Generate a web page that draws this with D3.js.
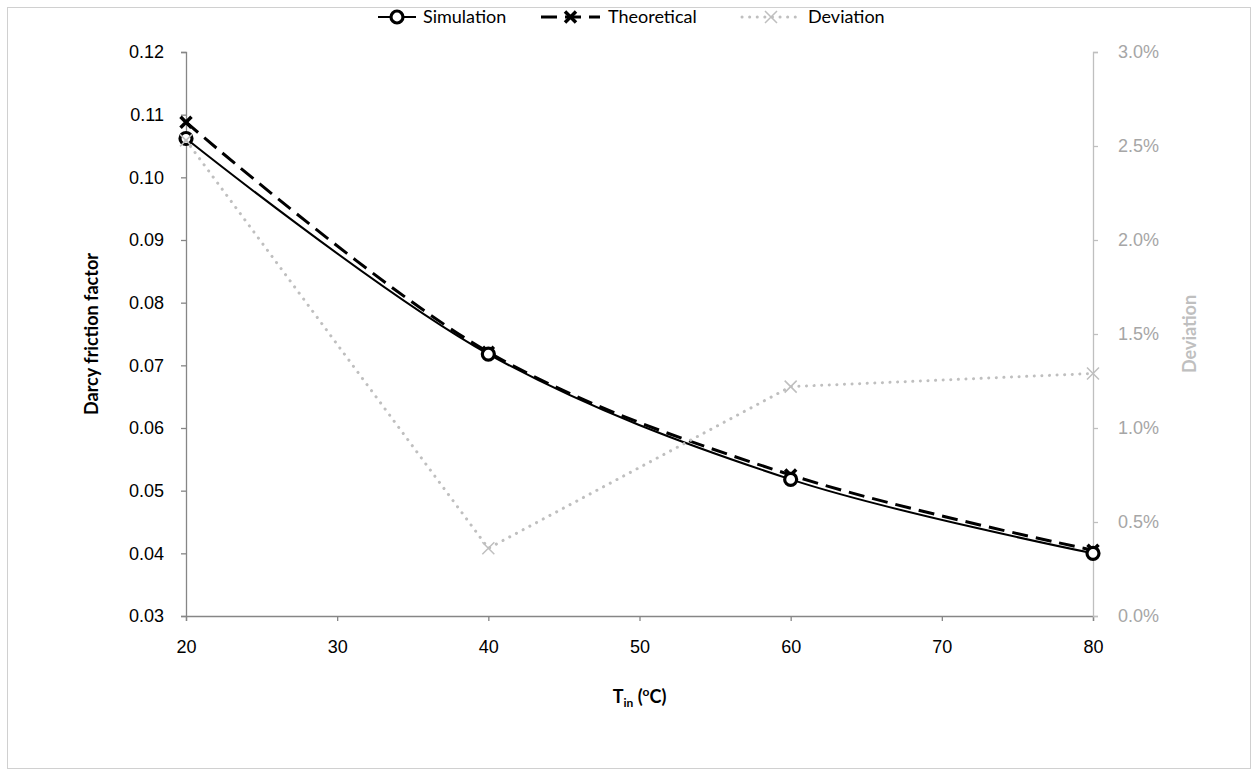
<!DOCTYPE html>
<html>
<head>
<meta charset="utf-8">
<script src="https://cdn.jsdelivr.net/npm/d3@7"></script>
<style>
  html, body { margin: 0; padding: 0; background: #fff; }
  svg { display: block; font-family: Lato, "Open Sans", sans-serif; }
</style>
</head>
<body>
<svg id="chart" width="1258" height="776"></svg>
<script>
// Inlet temperature (°C)
const temperatures = [20, 40, 60, 80];
// Darcy friction factor from the simulation
const simulation = [0.1062, 0.0718, 0.0518, 0.0400];
// Darcy friction factor from the theoretical correlation
const theoretical = [0.1088, 0.0721, 0.0525, 0.0405];
// Relative deviation between the two (secondary axis)
const deviation = [0.0253, 0.0036, 0.0122, 0.0129];

const xTicks = [20, 30, 40, 50, 60, 70, 80];
const yTicks = [0.03, 0.04, 0.05, 0.06, 0.07, 0.08, 0.09, 0.10, 0.11, 0.12];
const y2Ticks = [0, 0.005, 0.01, 0.015, 0.02, 0.025, 0.03];

const svg = d3.select("#chart");
const W = 1258, H = 776;
const FS = 18;

// chart frame
svg.append("rect")
  .attr("x", 7.5).attr("y", 7.5)
  .attr("width", W - 15).attr("height", H - 15)
  .attr("fill", "#fff").attr("stroke", "#d0d0d0").attr("stroke-width", 1);

const plot = { left: 186, right: 1093, top: 52, bottom: 616 };

const x = d3.scaleLinear().domain([20, 80]).range([plot.left, plot.right]);
const y = d3.scaleLinear().domain([0.03, 0.12]).range([plot.bottom, plot.top]);
const y2 = d3.scaleLinear().domain([0, 0.03]).range([plot.bottom, plot.top]);

const axisGrey = "#868686";
const lightGrey = "#bfbfbf";

// x axis
const gx = svg.append("g")
  .attr("transform", `translate(0,${plot.bottom})`)
  .call(d3.axisBottom(x).tickValues(xTicks).tickFormat(d3.format("d")).tickSizeOuter(0).tickSize(5).tickPadding(19));
gx.select(".domain").attr("stroke", axisGrey).attr("stroke-width", 1.3);
gx.selectAll(".tick line").attr("stroke", axisGrey).attr("stroke-width", 1.3);
gx.selectAll(".tick text").attr("fill", "#000").attr("font-size", FS);

// left axis
const gy = svg.append("g")
  .attr("transform", `translate(${plot.left},0)`)
  .call(d3.axisLeft(y).tickValues(yTicks).tickFormat(d3.format(".2f")).tickSizeOuter(0).tickSize(5).tickPadding(17));
gy.select(".domain").attr("stroke", axisGrey).attr("stroke-width", 1.3);
gy.selectAll(".tick line").attr("stroke", axisGrey).attr("stroke-width", 1.3);
gy.selectAll(".tick text").attr("fill", "#000").attr("font-size", FS);

// right axis (deviation)
const gy2 = svg.append("g")
  .attr("transform", `translate(${plot.right},0)`)
  .call(d3.axisRight(y2).tickValues(y2Ticks).tickFormat(d3.format(".1%")).tickSizeOuter(0).tickSize(5).tickPadding(20));
gy2.select(".domain").attr("stroke", lightGrey).attr("stroke-width", 1.3);
gy2.selectAll(".tick line").attr("stroke", lightGrey).attr("stroke-width", 1.3);
gy2.selectAll(".tick text").attr("fill", "#a6a6a6").attr("font-size", FS);

// axis titles
const xTitle = svg.append("text")
  .attr("x", (plot.left + plot.right) / 2).attr("y", 703)
  .attr("text-anchor", "middle").attr("font-size", FS).attr("font-weight", "bold").attr("fill", "#000");
xTitle.append("tspan").text("T");
xTitle.append("tspan").attr("font-size", 12).attr("dy", 4).text("in");
xTitle.append("tspan").attr("dy", -4).text(" (");
xTitle.append("tspan").attr("font-size", 12).attr("dy", -7).text("o");
xTitle.append("tspan").attr("dy", 7).text("C)");

svg.append("text")
  .attr("transform", `translate(98,${(plot.top + plot.bottom) / 2}) rotate(-90)`)
  .attr("text-anchor", "middle").attr("font-size", FS).attr("font-weight", "bold").attr("fill", "#000")
  .text("Darcy friction factor");

svg.append("text")
  .attr("transform", `translate(1196,${(plot.top + plot.bottom) / 2}) rotate(-90)`)
  .attr("text-anchor", "middle").attr("font-size", FS).attr("font-weight", "bold").attr("fill", lightGrey)
  .text("Deviation");

// series data rows
const rows = (vals) => temperatures.map((t, i) => ({ t, v: vals[i] }));

const smooth = d3.line().x(d => x(d.t)).y(d => y(d.v)).curve(d3.curveCatmullRom.alpha(0.5));
const straight2 = d3.line().x(d => x(d.t)).y(d => y2(d.v));

const xPath = (s) => `M${-s},${-s}L${s},${s}M${-s},${s}L${s},${-s}`;

const g = svg.append("g");

// theoretical: dashed black line with bold crosses
g.append("path").datum(rows(theoretical))
  .attr("d", smooth).attr("fill", "none").attr("stroke", "#000")
  .attr("stroke-width", 3).attr("stroke-dasharray", "16,8");

// simulation: solid black line with open circles
g.append("path").datum(rows(simulation))
  .attr("d", smooth).attr("fill", "none").attr("stroke", "#000").attr("stroke-width", 2);

g.selectAll(".theoMark").data(rows(theoretical)).join("path")
  .attr("class", "theoMark")
  .attr("transform", d => `translate(${x(d.t)},${y(d.v)})`)
  .attr("d", xPath(5.5)).attr("stroke", "#000").attr("stroke-width", 3.5).attr("fill", "none");

g.selectAll(".simMark").data(rows(simulation)).join("circle")
  .attr("class", "simMark")
  .attr("cx", d => x(d.t)).attr("cy", d => y(d.v)).attr("r", 6)
  .attr("fill", "#fff").attr("stroke", "#000").attr("stroke-width", 3.2);

// deviation: light grey dotted line with thin crosses on the secondary axis
g.append("path").datum(rows(deviation))
  .attr("d", straight2).attr("fill", "none").attr("stroke", lightGrey)
  .attr("stroke-width", 3).attr("stroke-linecap", "round").attr("stroke-dasharray", "0.1,7.5");

g.selectAll(".devMark").data(rows(deviation)).join("path")
  .attr("class", "devMark")
  .attr("transform", d => `translate(${x(d.t)},${y2(d.v)})`)
  .attr("d", xPath(6)).attr("stroke", lightGrey).attr("stroke-width", 1.5).attr("fill", "none");

// legend
const legend = svg.append("g").attr("transform", "translate(0,17)");
const items = [
  { name: "Simulation", x0: 378, x1: 416, text: 423 },
  { name: "Theoretical", x0: 541, x1: 600, text: 608 },
  { name: "Deviation", x0: 742, x1: 800, text: 808 }
];
const [sItem, tItem, dItem] = items;

legend.append("line").attr("x1", sItem.x0).attr("x2", sItem.x1).attr("y1", 0).attr("y2", 0)
  .attr("stroke", "#000").attr("stroke-width", 2);
legend.append("circle").attr("cx", (sItem.x0 + sItem.x1) / 2).attr("cy", 0).attr("r", 6)
  .attr("fill", "#fff").attr("stroke", "#000").attr("stroke-width", 3.2);

legend.append("line").attr("x1", tItem.x0).attr("x2", tItem.x1).attr("y1", 0).attr("y2", 0)
  .attr("stroke", "#000").attr("stroke-width", 3).attr("stroke-dasharray", "16,8");
legend.append("path").attr("transform", `translate(${(tItem.x0 + tItem.x1) / 2},0)`)
  .attr("d", xPath(5.5)).attr("stroke", "#000").attr("stroke-width", 3.5).attr("fill", "none");

legend.append("line").attr("x1", dItem.x0).attr("x2", dItem.x1).attr("y1", 0).attr("y2", 0)
  .attr("stroke", lightGrey).attr("stroke-width", 3).attr("stroke-linecap", "round").attr("stroke-dasharray", "0.1,7.5");
legend.append("path").attr("transform", `translate(${(dItem.x0 + dItem.x1) / 2},0)`)
  .attr("d", xPath(6)).attr("stroke", lightGrey).attr("stroke-width", 1.5).attr("fill", "none");

legend.selectAll(".ltext").data(items).join("text")
  .attr("class", "ltext")
  .attr("x", d => d.text).attr("y", 0).attr("dy", "0.35em")
  .attr("font-size", FS).attr("fill", "#000").text(d => d.name);
</script>
</body>
</html>
